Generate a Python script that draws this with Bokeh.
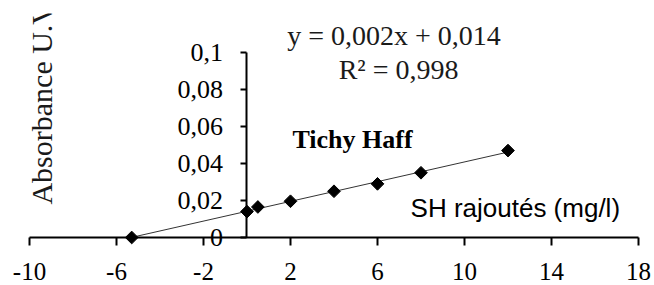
import numpy as np
from bokeh.plotting import figure
from bokeh.models import Range1d, FixedTicker, Label, ColumnDataSource
from bokeh.embed import file_html
from bokeh.resources import INLINE

# data
sh_added = [-5.3, 0, 0.5, 2, 4, 6, 8, 12]
absorbance = [0.0, 0.014, 0.0165, 0.0196, 0.025, 0.029, 0.035, 0.047]
x_ticks = [-10, -6, -2, 2, 6, 10, 14, 18]
y_ticks = [0, 0.02, 0.04, 0.06, 0.08, 0.1]
y_tick_labels = ["0", "0,02", "0,04", "0,06", "0,08", "0,1"]
equation_text = "y = 0,002x  + 0,014"
r2_text = "R\u00b2 = 0,998"
series_title = "Tichy Haff"
x_title = "SH rajoutés (mg/l)"
y_title = "Absorbance U.V"

SERIF = "Liberation Serif"
SANS = "Liberation Sans"

p = figure(width=654, height=285, output_backend="svg", toolbar_location=None,
           x_range=Range1d(-11.333, 18.736), y_range=Range1d(-0.02595, 0.1211),
           min_border_left=0, min_border_right=0, min_border_top=13, min_border_bottom=0)
p.outline_line_color = None
p.xgrid.visible = False
p.ygrid.visible = False
p.background_fill_color = "white"
p.border_fill_color = "white"

# x axis crossing at y = 0
for ax in p.xaxis:
    ax.fixed_location = 0
    ax.ticker = FixedTicker(ticks=x_ticks)
    ax.major_label_overrides = {t: str(t) for t in x_ticks}
    ax.bounds = (x_ticks[0], x_ticks[-1])
    ax.axis_line_width = 2
    ax.axis_line_color = "black"
    ax.major_tick_line_width = 2
    ax.major_tick_in = 0
    ax.major_tick_out = 8
    ax.minor_tick_line_color = None
    ax.major_label_text_font = SERIF
    ax.major_label_text_font_size = "25px"
    ax.major_label_text_color = "black"
    ax.major_label_standoff = 17

# y axis crossing at x = 0
for ax in p.yaxis:
    ax.fixed_location = 0
    ax.ticker = FixedTicker(ticks=y_ticks)
    ax.major_label_overrides = {t: l for t, l in zip(y_ticks, y_tick_labels)}
    ax.bounds = (y_ticks[0], y_ticks[-1])
    ax.axis_line_width = 2
    ax.axis_line_color = "black"
    ax.major_tick_line_width = 2
    ax.major_tick_in = 0
    ax.major_tick_out = 6
    ax.minor_tick_line_color = None
    ax.major_label_text_font = SERIF
    ax.major_label_text_font_size = "26px"
    ax.major_label_text_color = "black"
    ax.major_label_standoff = 18

# trendline
coef = np.polyfit(sh_added, absorbance, 1)
xs = [min(sh_added), max(sh_added)]
ys = [coef[0] * x + coef[1] for x in xs]
p.line(xs, ys, line_color="#333333", line_width=1)

src = ColumnDataSource(dict(x=sh_added, y=absorbance))
p.scatter("x", "y", source=src, marker="square", angle=np.pi / 4, size=9,
          fill_color="black", line_color="black")

# annotations
p.add_layout(Label(x=6.92, y=0.1006, text=equation_text, text_align="center",
                   text_baseline="bottom",
                   text_font=SERIF, text_font_size="28px", text_color="#1a1a1a"))
p.add_layout(Label(x=6.97, y=0.0822, text=r2_text, text_align="center",
                   text_baseline="bottom",
                   text_font=SERIF, text_font_size="28px", text_color="#1a1a1a"))
p.add_layout(Label(x=2.09, y=0.0449, text=series_title, text_align="left",
                   text_baseline="bottom",
                   text_font=SERIF, text_font_size="26px", text_font_style="bold",
                   text_color="black"))
p.add_layout(Label(x=7.52, y=0.0076, text=x_title, text_align="left",
                   text_baseline="bottom",
                   text_font=SANS, text_font_size="26px", text_color="black"))
p.add_layout(Label(x=-8.71, y=0.0178, text=y_title,
                   angle=np.pi / 2, text_align="left", text_baseline="bottom",
                   text_font=SERIF, text_font_size="30px", text_color="#1a1a1a"))

open("out.html", "w").write(file_html(p, INLINE))
